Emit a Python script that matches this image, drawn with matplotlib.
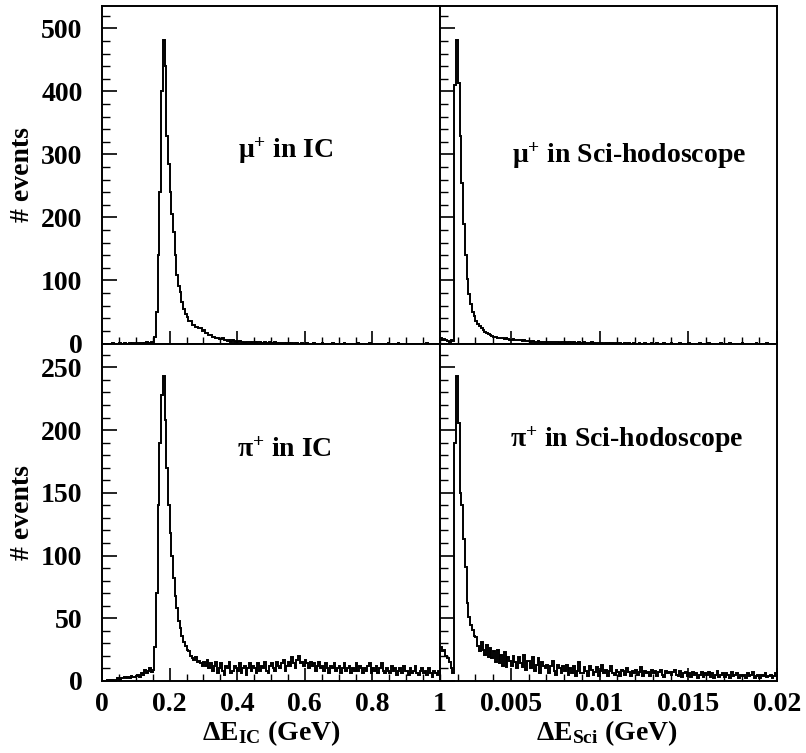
import numpy as np
import matplotlib
matplotlib.use('Agg')
import matplotlib.pyplot as plt
from matplotlib.ticker import MultipleLocator, FixedLocator

plt.rcParams['font.family'] = ['Liberation Serif', 'DejaVu Serif']
plt.rcParams['font.weight'] = 'bold'
plt.rcParams['mathtext.fontset'] = 'custom'
plt.rcParams['mathtext.rm'] = 'Liberation Serif:bold'
plt.rcParams['mathtext.bf'] = 'Liberation Serif:bold'
plt.rcParams['mathtext.it'] = 'Liberation Serif:bold:italic'
plt.rcParams['mathtext.default'] = 'rm'

# ---------------- data (bin contents) ----------------
# IC panels: 200 bins over 0..1 GeV
ic_range = (0.0, 1.0)
ic_nbins = 200
mu_ic = [
    0, 0, 0, 0, 0, 0, 1, 0, 0, 0, 1, 0, 0, 1, 0, 0, 1, 0, 1, 0,
    1, 0, 1, 1, 0, 1, 2, 1, 1, 2, 3, 10, 50, 140, 240, 400, 481, 441, 330, 285,
    240, 205, 177, 140, 108, 92, 81, 66, 55, 47, 42, 36, 35, 30, 30, 26, 26, 24, 25, 20,
    21, 17, 16, 13, 14, 11, 11, 8, 9, 7, 7, 8, 5, 6, 4, 5, 3, 5, 3, 4,
    3, 4, 2, 3, 1, 3, 3, 2, 1, 2, 2, 1, 2, 2, 1, 1, 2, 1, 1, 2,
    1, 1, 2, 1, 0, 1, 1, 1, 0, 1, 1, 0, 1, 0, 1, 1, 0, 0, 1, 0,
    0, 1, 0, 0, 0, 1, 0, 0, 0, 0, 1, 0, 0, 0, 0, 0, 1, 0, 0, 0,
    0, 0, 0, 1, 0, 0, 0, 0, 0, 0, 0, 1, 0, 0, 0, 0, 0, 0, 1, 0,
    0, 0, 0, 0, 0, 0, 0, 0, 0, 1, 0, 0, 0, 0, 0, 1, 0, 0, 0, 0,
    0, 0, 0, 0, 0, 0, 0, 0, 0, 0, 0, 0, 1, 0, 0, 0, 0, 0, 0, 0,
]
pi_ic = [
    0, 0, 0, 1, 0, 1, 1, 0, 1, 2, 1, 2, 2, 3, 2, 3, 2, 4, 3, 3,
    4, 5, 3, 6, 5, 9, 6, 8, 10, 7, 9, 27, 70, 140, 190, 228, 243, 208, 170, 140,
    118, 100, 82, 68, 58, 48, 42, 36, 31, 28, 25, 24, 20, 18, 17, 19, 15, 16, 14, 12,
    15, 12, 17, 10, 14, 8, 12, 15, 6, 10, 14, 8, 5, 12, 10, 15, 6, 8, 12, 10,
    8, 14, 6, 10, 12, 5, 10, 14, 8, 12, 10, 6, 14, 8, 12, 10, 15, 8, 6, 12,
    14, 10, 8, 15, 12, 10, 14, 17, 8, 12, 15, 12, 19, 14, 10, 17, 20, 14, 15, 12,
    17, 14, 10, 15, 12, 14, 8, 12, 15, 10, 12, 8, 14, 10, 6, 12, 10, 14, 8, 10,
    12, 6, 10, 14, 8, 10, 12, 6, 10, 8, 14, 8, 12, 10, 6, 10, 8, 12, 14, 6,
    10, 8, 12, 6, 10, 14, 8, 6, 10, 8, 6, 12, 8, 10, 5, 8, 10, 6, 12, 8,
    8, 5, 10, 6, 8, 12, 6, 5, 8, 10, 6, 8, 5, 10, 6, 3, 8, 6, 5, 8,
]
# Scintillator panels: bins of 0.0001 GeV, visible from 0.001 to 0.02
sci_range = (0.001, 0.02)
sci_nbins = 190
mu_sci = [
    8, 6, 7, 5, 4, 3, 6, 4, 410, 481, 414, 330, 255, 190, 140, 103, 78, 62, 50, 43,
    36, 31, 27, 24, 21, 18, 16, 15, 13, 12, 11, 10, 9, 9, 8, 8, 7, 8, 7, 6,
    6, 7, 5, 6, 5, 5, 4, 5, 4, 4, 4, 3, 4, 3, 3, 4, 3, 2, 3, 3,
    2, 3, 2, 2, 3, 2, 2, 1, 2, 2, 2, 1, 2, 2, 1, 2, 1, 1, 2, 1,
    1, 2, 1, 1, 1, 2, 1, 1, 0, 1, 1, 1, 0, 1, 1, 0, 1, 1, 0, 1,
    0, 1, 0, 0, 1, 0, 1, 0, 0, 1, 0, 0, 1, 0, 0, 1, 0, 0, 0, 1,
    0, 0, 1, 0, 0, 0, 1, 0, 0, 0, 1, 0, 0, 0, 0, 1, 0, 0, 0, 0,
    1, 0, 0, 0, 0, 0, 1, 0, 0, 0, 0, 1, 0, 0, 0, 0, 0, 0, 1, 0,
    0, 0, 0, 1, 0, 0, 0, 0, 0, 0, 1, 0, 0, 0, 0, 0, 0, 0, 1, 0,
    0, 0, 0, 0, 1, 0, 0, 0, 0, 0,
]
pi_sci = [
    27, 24, 25, 20, 18, 15, 10, 6, 190, 243, 206, 150, 140, 113, 91, 62, 51, 45, 41, 36,
    35, 28, 24, 31, 25, 21, 29, 19, 26, 18, 24, 15, 25, 14, 21, 12, 23, 11, 19, 16,
    12, 20, 15, 10, 19, 14, 11, 21, 9, 16, 16, 10, 19, 8, 13, 18, 6, 15, 12, 10,
    13, 6, 12, 16, 8, 5, 13, 10, 6, 12, 8, 13, 5, 10, 6, 12, 4, 8, 15, 6,
    6, 11, 8, 4, 12, 9, 5, 7, 11, 4, 8, 13, 6, 9, 4, 8, 12, 6, 5, 9,
    7, 4, 9, 8, 5, 10, 7, 4, 8, 6, 9, 5, 7, 11, 4, 8, 6, 7, 4, 9,
    6, 8, 4, 7, 9, 5, 3, 8, 6, 7, 5, 7, 9, 5, 4, 8, 3, 6, 7, 4,
    6, 3, 7, 5, 6, 2, 5, 7, 3, 6, 5, 7, 3, 6, 2, 5, 8, 3, 5, 6,
    3, 6, 5, 2, 7, 4, 5, 6, 2, 5, 4, 5, 2, 6, 4, 5, 7, 2, 4, 5,
    2, 5, 4, 6, 3, 4, 5, 2, 4, 6,
]

ic_ticklabels = ['0', '0.2', '0.4', '0.6', '0.8', '1']
ic_ticks = [0, 0.2, 0.4, 0.6, 0.8, 1.0]
sci_ticklabels = ['0.005', '0.01', '0.015', '0.02']
sci_ticks = [0.005, 0.01, 0.015, 0.02]
top_yticks = [0, 100, 200, 300, 400, 500]
bot_yticks = [0, 50, 100, 150, 200, 250]

# ---------------- layout ----------------
W, H = 806, 753
fig = plt.figure(figsize=(W / 100, H / 100), dpi=100)

def rect(x0, y0, x1, y1):
    return [x0 / W, 1 - y1 / H, (x1 - x0) / W, (y1 - y0) / H]

xL0, xM, xR1 = 102, 440, 777
yT0, yM, yB1 = 6, 343.5, 681
axTL = fig.add_axes(rect(xL0, yT0, xM, yM))
axTR = fig.add_axes(rect(xM, yT0, xR1, yM))
axBL = fig.add_axes(rect(xL0, yM, xM, yB1))
axBR = fig.add_axes(rect(xM, yM, xR1, yB1))

ic_edges = np.linspace(ic_range[0], ic_range[1], ic_nbins + 1)
sci_edges = np.linspace(sci_range[0], sci_range[1], sci_nbins + 1)

panels = [
    (axTL, mu_ic, ic_edges, 'top', 'ic'),
    (axTR, mu_sci, sci_edges, 'top', 'sci'),
    (axBL, pi_ic, ic_edges, 'bot', 'ic'),
    (axBR, pi_sci, sci_edges, 'bot', 'sci'),
]

for ax, vals, edges, row, col in panels:
    ax.stairs(vals, edges, color='black', lw=1.4)
    for s in ax.spines.values():
        s.set_linewidth(1.4)
    if col == 'ic':
        ax.set_xlim(0, 1)
        ax.xaxis.set_major_locator(FixedLocator(ic_ticks))
        ax.xaxis.set_minor_locator(MultipleLocator(0.05))
    else:
        ax.set_xlim(sci_range)
        ax.xaxis.set_major_locator(FixedLocator(sci_ticks))
        ax.xaxis.set_minor_locator(FixedLocator(np.arange(1, 21) * 0.001))
    if row == 'top':
        ax.set_ylim(0, 535.7)
        ax.yaxis.set_major_locator(FixedLocator(top_yticks))
        ax.yaxis.set_minor_locator(MultipleLocator(20))
    else:
        ax.set_ylim(0, 269)
        ax.yaxis.set_major_locator(FixedLocator(bot_yticks))
        ax.yaxis.set_minor_locator(MultipleLocator(10))
    ax.tick_params(axis='y', which='major', direction='in', length=11, width=1.2,
                   labelsize=20, pad=14, right=False)
    ax.tick_params(axis='y', which='minor', direction='in', length=5.5, width=1.0, right=False)
    ax.tick_params(axis='x', which='major', direction='in', length=9.5, width=1.2,
                   labelsize=20, pad=8, top=False)
    ax.tick_params(axis='x', which='minor', direction='in', length=5, width=1.0, top=False)
    if row == 'top':
        ax.set_xticklabels([])
    else:
        ax.set_xticklabels(ic_ticklabels if col == 'ic' else sci_ticklabels)
    if col == 'sci':
        ax.set_yticklabels([])
    else:
        ax.set_yticklabels([str(v) for v in (top_yticks if row == 'top' else bot_yticks)])
    for lab in ax.get_xticklabels() + ax.get_yticklabels():
        lab.set_fontweight('bold')

def ftext(x, y, s, **kw):
    fig.text(x / W, 1 - y / H, s, fontsize=kw.pop('fontsize', 20), fontweight='bold', **kw)

ftext(238, 158, r'μ$^{+}$ in IC', ha='left', va='baseline')
ftext(512, 163, r'μ$^{+}$ in Sci-hodoscope', ha='left', va='baseline')
ftext(237, 457, r'π$^{+}$ in IC', ha='left', va='baseline')
ftext(510, 447, r'π$^{+}$ in Sci-hodoscope', ha='left', va='baseline')

ftext(23, 175, '# events', rotation=90, ha='center', va='center')
ftext(23, 513, '# events', rotation=90, ha='center', va='center')
ftext(271, 740, r'ΔE$_{\rm IC}$ (GeV)', ha='center', va='baseline')
ftext(607, 740, r'ΔE$_{\rm Sci}$ (GeV)', ha='center', va='baseline')

fig.savefig('out.png', dpi=100)
